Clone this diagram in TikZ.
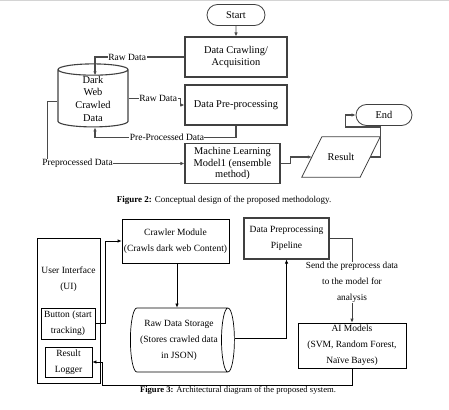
\documentclass[tikz,border=0pt]{standalone}
\usepackage{fontspec}
\setmainfont{Liberation Serif}
\usetikzlibrary{arrows.meta,positioning,calc,shapes.geometric,shapes.misc}
\definecolor{FrameGray}{HTML}{404040}
\definecolor{EdgeGray}{HTML}{4A4A4A}
\definecolor{RuleGray}{HTML}{D4D4D4}
\tikzset{
  stepbox/.style={draw=FrameGray,line width=1.1pt,align=center,inner sep=0pt,
              font=\fontsize{10.4}{11.5}\selectfont},
  termbox/.style={draw=FrameGray,line width=0.8pt,rounded rectangle,inner sep=0pt,
              minimum height=21pt,font=\fontsize{10.4}{12}\selectfont},
  archbox/.style={draw=black,line width=0.7pt,align=center,inner sep=0pt,
              font=\fontsize{9.5}{16}\selectfont},
  flow/.style={-{Latex[length=4pt,width=3.5pt]},line width=1.1pt,draw=EdgeGray},
  archflow/.style={-{Latex[length=4pt,width=3.5pt]},line width=0.7pt,draw=black},
  tag/.style={fill=white,inner sep=0.5pt,font=\fontsize{9.5}{11}\selectfont},
  archtag/.style={fill=white,inner sep=0.5pt,align=center,font=\fontsize{9.3}{16}\selectfont},
  caption/.style={font=\fontsize{9}{10}\selectfont}
}

\begin{document}
\begin{tikzpicture}[x=1pt,y=-1pt]
  \useasboundingbox (0,0) rectangle (449,409);
  \draw[RuleGray,line width=1pt] (0,0.5) -- (449,0.5);

  % Figure 2: conceptual design
  \node[termbox,minimum width=58pt] (start) at (236,15) {Start};
  \node[stepbox,minimum width=102pt,minimum height=40pt] (crawl) at (236,57) {Data Crawling/\\Acquisition};
  \node[stepbox,minimum width=102pt,minimum height=40pt] (prep) at (236,105) {Data Pre-processing};
  \node[stepbox,minimum width=95pt,minimum height=40pt] (ml) at (232.5,163.5) {Machine Learning\\Model1 (ensemble\\method)};
  \node[cylinder,shape border rotate=90,draw=FrameGray,line width=1.1pt,aspect=0.32,
        minimum width=70pt,minimum height=63pt,inner sep=0pt,align=center,
        font=\fontsize{10.4}{12.7}\selectfont] (store) at (93,98.5) {Dark\\Web\\Crawled\\Data};
  \node[minimum width=58pt,minimum height=40pt,inner sep=0pt,
        font=\fontsize{10.4}{12}\selectfont] (res) at (341,157) {Result};
  \draw[FrameGray,line width=0.8pt] ([xshift=-10pt]res.south west) -- ([xshift=10pt]res.north west)
    -- ([xshift=10pt]res.north east) -- ([xshift=-10pt]res.south east) -- cycle;
  \node[termbox,minimum width=56pt] (finish) at (384,115) {End};

  \draw[flow,line width=0.8pt] (start) -- (crawl);
  \draw[flow] (crawl.west) -| ([xshift=2pt,yshift=-12pt]store.north) node[tag,pos=0.32] {Raw Data};
  \draw[flow] (store.east) -- ++(52,0) node[tag,pos=0.57] {Raw Data} |- (prep.west);
  \draw[flow] (prep.south) -- ++(0,12) -| ([xshift=2pt]store.south) node[tag,pos=0.245] {Pre-Processed Data};
  \draw[flow] ([yshift=-3pt]store.west) -- ++(-10,0) |- (ml.west) node[tag,pos=0.61] {Preprocessed Data};
  \draw[flow,line width=1.6pt] (ml.east) -- ++(10,0) |- (res.west);
  \draw[flow] (res.east) -- ++(10,0) -- ++(0,-30) -| ([xshift=-10pt]finish.west) -- (finish.west);

  \node[caption] (cap2) at (224,200) {\textbf{Figure 2:} Conceptual design of the proposed methodology.};

  % Figure 3: architecture
  \node[archbox,minimum width=63pt,minimum height=145pt] (ui) at (68.5,310.5) {};
  \node[align=center,inner sep=0pt,font=\fontsize{9.5}{16}\selectfont] (uitext) at (68.5,279) {User Interface\\(UI)};
  \node[archbox,minimum width=54pt,minimum height=31pt] (button) at (68,323.5) {Button (start\\tracking)};
  \node[archbox,minimum width=47pt,minimum height=30pt] (logger) at (68.5,362) {Result\\Logger};
  \node[archbox,minimum width=107pt,minimum height=44pt] (crawler) at (175.5,241) {Crawler Module\\(Crawls dark web Content)};
  \node[cylinder,draw=black,line width=0.7pt,aspect=0.32,minimum width=64pt,minimum height=104pt,
        inner sep=0pt,align=center,font=\fontsize{9.5}{16}\selectfont] (rawstore) at (179,340) {Raw Data Storage\\(Stores crawled data\\in JSON)};
  \node[archbox,draw=FrameGray,line width=1.1pt,minimum width=85pt,minimum height=41pt] (pipeline) at (286.5,238.5) {Data Preprocessing\\Pipeline};
  \node[archbox,minimum width=108pt,minimum height=45pt] (ai) at (352,345.5) {AI Models\\(SVM, Random Forest,\\Naïve Bayes)};

  \draw[archflow] (button.east) -- ++(10,0) |- (crawler.west);
  \draw[archflow] ([xshift=1.5pt]crawler.south) -- ([xshift=1.5pt]crawler.south |- rawstore.north);
  \draw[archflow] ([yshift=1.5pt]rawstore.east) -| (pipeline.south);
  \draw[archflow,draw=FrameGray,line width=0.9pt] (pipeline.east) -| (ai.north) node[archtag,pos=0.76] {Send the preprocess data\\to the model for\\analysis};
  \draw[archflow] (ai.south) -- ++(0,16.5) -| ([xshift=10pt]logger.east) -- (logger.east);

  \node[caption,font=\fontsize{8.6}{10}\selectfont] (cap3) at (238,390) {\textbf{Figure 3:} Architectural diagram of the proposed system.};
\end{tikzpicture}
\end{document}
